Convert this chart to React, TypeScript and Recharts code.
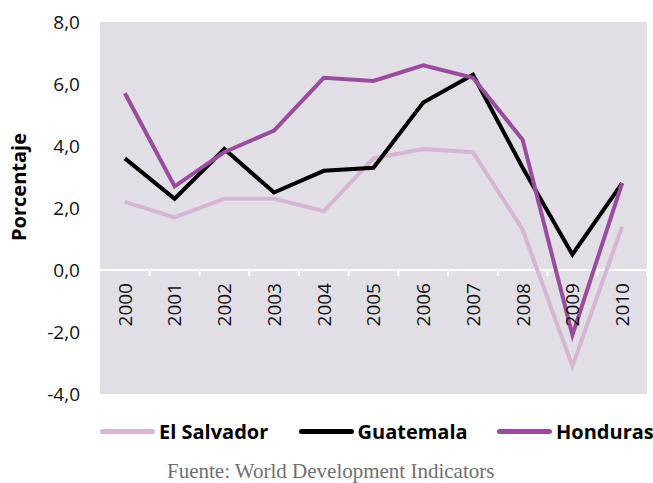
import React from "react";
import { LineChart, Line, XAxis, YAxis, CartesianGrid, ReferenceLine } from "recharts";

const years = ["2000", "2001", "2002", "2003", "2004", "2005", "2006", "2007", "2008", "2009", "2010"];
const elSalvador = [2.2, 1.7, 2.3, 2.3, 1.9, 3.6, 3.9, 3.8, 1.3, -3.1, 1.4];
const guatemala = [3.6, 2.3, 3.9, 2.5, 3.2, 3.3, 5.4, 6.3, 3.3, 0.5, 2.8];
const honduras = [5.7, 2.7, 3.8, 4.5, 6.2, 6.1, 6.6, 6.2, 4.2, -2.1, 2.8];
const yTicks = [-4, -2, 0, 2, 4, 6, 8];
const seriesNames = ["El Salvador", "Guatemala", "Honduras"];
const seriesKeys = ["es", "gt", "hn"];
const seriesColors = ["#D5B5D1", "#000000", "#9A4C9C"];
const yAxisTitle = "Porcentaje";
const sourceText = "Fuente: World Development Indicators";

const data = years.map((y, i) => ({ year: y, es: elSalvador[i], gt: guatemala[i], hn: honduras[i] }));

const W = 653;
const H = 483;
const M = { top: 22, right: 6, left: 0, bottom: 88 };
const Y_AXIS_W = 100;
const plotTop = M.top;
const plotHeight = 372;
const plotWidth = W - M.left - M.right - Y_AXIS_W;
const band = plotWidth / years.length;
const zeroY = plotTop + (8 / 12) * plotHeight;

const FONT = "'Open Sans', 'DejaVu Sans', sans-serif";

const YearTick = (props: any) => {
  const { x, payload, index } = props;
  return (
    <g>
      {index > 0 && (
        <line x1={x - band / 2} x2={x - band / 2} y1={zeroY} y2={zeroY + 6} stroke="#fff" strokeWidth={2} />
      )}
      {index === years.length - 1 && (
        <line x1={x + band / 2} x2={x + band / 2} y1={zeroY} y2={zeroY + 6} stroke="#fff" strokeWidth={2} />
      )}
      <text
        x={0}
        y={0}
        transform={`translate(${x},${zeroY + 13}) rotate(-90)`}
        textAnchor="end"
        dy="0.36em"
        fontSize={19}
        fontFamily={FONT}
        fill="#111"
      >
        {payload.value}
      </text>
    </g>
  );
};

const YTitle = () => (
  <text
    x={0}
    y={0}
    transform={`translate(19,187) rotate(-90)`}
    textAnchor="middle"
    dy="0.36em"
    fontSize={20}
    fontWeight={700}
    fontFamily={FONT}
    fill="#000"
  >
    {yAxisTitle}
  </text>
);

export default function App() {
  return (
    <div style={{ position: "absolute", left: 0, top: 0, width: W, height: H, background: "#fff", overflow: "hidden" }}>
      <LineChart width={W} height={H} data={data} margin={M}>
        <CartesianGrid horizontal={false} vertical={false} fill="#E1DEE6" stroke="none" />
        <XAxis
          dataKey="year"
          height={1}
          axisLine={false}
          tickLine={false}
          tick={<YearTick />}
          interval={0}
          padding={{ left: band / 2, right: band / 2 }}
        />
        <YAxis
          width={Y_AXIS_W}
          domain={[-4, 8]}
          ticks={yTicks}
          interval={0}
          axisLine={false}
          tickLine={false}
          tickMargin={14}
          tickFormatter={(v: number) => v.toFixed(1).replace(".", ",")}
          tick={{ fontSize: 19, fontFamily: FONT, fill: "#111" }}
          label={{ content: <YTitle /> }}
        />
        <ReferenceLine y={0} stroke="#fff" strokeWidth={2} />
        {seriesKeys.map((k, i) => (
          <Line
            key={k}
            type="linear"
            dataKey={k}
            stroke={seriesColors[i]}
            strokeWidth={4}
            dot={false}
            isAnimationActive={false}
          />
        ))}
      </LineChart>
      <div
        style={{
          position: "absolute",
          left: 100,
          top: 417,
          height: 28,
          display: "flex",
          alignItems: "center",
          fontFamily: FONT,
          fontWeight: 700,
          fontSize: 20,
          color: "#000",
          whiteSpace: "nowrap",
        }}
      >
        {seriesNames.map((n, i) => (
          <div key={n} style={{ display: "flex", alignItems: "center", width: 198.5 }}>
            <div style={{ width: 55, height: 5, background: seriesColors[i], borderRadius: 2.5, marginRight: 4 }} />
            <span>{n}</span>
          </div>
        ))}
      </div>
      <div
        style={{
          position: "absolute",
          left: 167,
          top: 459,
          whiteSpace: "nowrap",
          fontFamily: "'Liberation Serif', 'DejaVu Serif', serif",
          fontSize: 21,
          color: "#707070",
        }}
      >
        {sourceText}
      </div>
    </div>
  );
}
